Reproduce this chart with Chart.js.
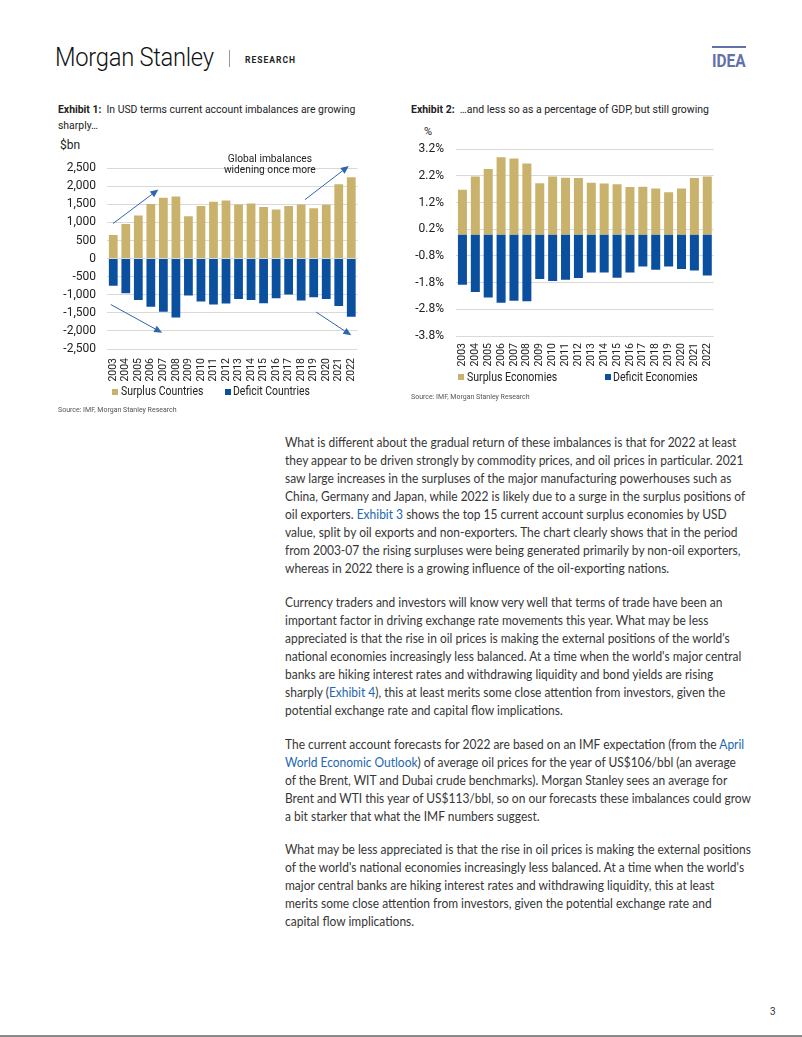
<!DOCTYPE html>
<html lang="en">
<head>
  <meta charset="UTF-8">
  <title>Morgan Stanley Research - Current account imbalances</title>
  <script src="https://cdn.jsdelivr.net/npm/chart.js"></script>
  <style>
    * { box-sizing: border-box; }
    body {
      margin: 0;
      width: 802px;
      height: 1037px;
      position: relative;
      background: #fff;
      font-family: Roboto, sans-serif;
      color: #222;
      overflow: hidden;
    }
    .abs { position: absolute; white-space: nowrap; }
    .cond { transform-origin: 0 50%; }

    .brand { left: 55px; top: 43px; font-size: 25px; font-weight: 300; color: #111; transform: scaleX(0.95); transform-origin: 0 0; letter-spacing: -0.3px; }
    .divider { left: 229px; top: 50px; width: 1px; height: 17px; background: #999; }
    .research { left: 245px; top: 55px; font-size: 8.5px; font-weight: 700; letter-spacing: 1px; color: #222; }
    .idea-line { left: 712px; top: 46px; width: 34px; height: 2px; background: #6371a9; }
    .idea { left: 712px; top: 50px; font-size: 18px; font-weight: 700; color: #6371a9; transform: scaleX(0.86); transform-origin: 0 0; }

    .title { font-size: 11.5px; line-height: 16px; color: #222; transform: scaleX(0.905); transform-origin: 0 0; }
    .title b { font-weight: 700; }
    .unit { font-size: 12px; color: #222; }
    .source { font-size: 7px; color: #555; }

    .legend { font-size: 12px; color: #222; line-height: 14px; }
    .sw { width: 6px; height: 6px; }

    .text {
      left: 285px;
      font-family: Lato, sans-serif;
      font-size: 13px;
      line-height: 18px;
      color: #363636;
      transform: scaleX(0.922);
      transform-origin: 0 0;
    }
    .text a { color: #2266b0; text-decoration: none; }
    .pageno { left: 770px; top: 1006px; font-size: 10px; color: #333; }
    .bottom-rule { left: 0; top: 1035px; width: 802px; height: 2px; background: #8a8a8a; }
  </style>
</head>
<body>
  <div class="abs brand">Morgan Stanley</div>
  <div class="abs divider"></div>
  <div class="abs research">RESEARCH</div>
  <div class="abs idea-line"></div>
  <div class="abs idea">IDEA</div>

  <!-- Exhibit 1 -->
  <div class="abs title" style="left:58px; top:101px;"><b>Exhibit 1:</b>&nbsp; In USD terms current account imbalances are growing<br>sharply…</div>
  <div class="abs unit" style="left:60px; top:138px;">$bn</div>
  <canvas id="usdChart" class="abs" width="318" height="236" style="left:55px; top:150px;"></canvas>
  <div class="abs sw" style="left:112px; top:389px; background:#c9b36c;"></div>
  <div class="abs legend cond" style="left:121px; top:384px; transform:scaleX(0.87);">Surplus Countries</div>
  <div class="abs sw" style="left:225px; top:389px; background:#0b4f9f;"></div>
  <div class="abs legend cond" style="left:233px; top:384px; transform:scaleX(0.87);">Deficit Countries</div>
  <div class="abs source" style="left:58px; top:406px;">Source: IMF, Morgan Stanley Research</div>

  <!-- Exhibit 2 -->
  <div class="abs title" style="left:411px; top:101px; transform:scaleX(0.91);"><b>Exhibit 2:</b>&nbsp; …and less so as a percentage of GDP, but still growing</div>
  <div class="abs unit" style="left:424px; top:125px; font-size:11px;">%</div>
  <canvas id="gdpChart" class="abs" width="322" height="242" style="left:405px; top:130px;"></canvas>
  <div class="abs sw" style="left:458px; top:374px; background:#c9b36c;"></div>
  <div class="abs legend cond" style="left:467px; top:370px; transform:scaleX(0.88);">Surplus Economies</div>
  <div class="abs sw" style="left:605px; top:374px; background:#0b4f9f;"></div>
  <div class="abs legend cond" style="left:613px; top:370px; transform:scaleX(0.88);">Deficit Economies</div>
  <div class="abs source" style="left:411px; top:393px;">Source: IMF, Morgan Stanley Research</div>

  <!-- Body text -->
  <div class="abs text" style="top:433px;">What is different about the gradual return of these imbalances is that for 2022 at least<br>they appear to be driven strongly by commodity prices, and oil prices in particular. 2021<br>saw large increases in the surpluses of the major manufacturing powerhouses such as<br>China, Germany and Japan, while 2022 is likely due to a surge in the surplus positions of<br>oil exporters. <a>Exhibit 3</a> shows the top 15 current account surplus economies by USD<br>value, split by oil exports and non-exporters. The chart clearly shows that in the period<br>from 2003-07 the rising surpluses were being generated primarily by non-oil exporters,<br>whereas in 2022 there is a growing influence of the oil-exporting nations.</div>

  <div class="abs text" style="top:593px;">Currency traders and investors will know very well that terms of trade have been an<br>important factor in driving exchange rate movements this year. What may be less<br>appreciated is that the rise in oil prices is making the external positions of the world's<br>national economies increasingly less balanced. At a time when the world's major central<br>banks are hiking interest rates and withdrawing liquidity and bond yields are rising<br>sharply (<a>Exhibit 4</a>), this at least merits some close attention from investors, given the<br>potential exchange rate and capital flow implications.</div>

  <div class="abs text" style="top:735px;">The current account forecasts for 2022 are based on an IMF expectation (from the <a>April</a><br><a>World Economic Outlook</a>) of average oil prices for the year of US$106/bbl (an average<br>of the Brent, WIT and Dubai crude benchmarks). Morgan Stanley sees an average for<br>Brent and WTI this year of US$113/bbl, so on our forecasts these imbalances could grow<br>a bit starker that what the IMF numbers suggest.</div>

  <div class="abs text" style="top:840px;">What may be less appreciated is that the rise in oil prices is making the external positions<br>of the world's national economies increasingly less balanced. At a time when the world's<br>major central banks are hiking interest rates and withdrawing liquidity, this at least<br>merits some close attention from investors, given the potential exchange rate and<br>capital flow implications.</div>

  <div class="abs pageno">3</div>
  <div class="abs bottom-rule"></div>

  <script>
    const years = ['2003', '2004', '2005', '2006', '2007', '2008', '2009', '2010', '2011', '2012',
                   '2013', '2014', '2015', '2016', '2017', '2018', '2019', '2020', '2021', '2022'];

    const surplusUsd = [655, 960, 1190, 1510, 1680, 1715, 1170, 1455, 1570, 1608,
                        1495, 1522, 1425, 1360, 1455, 1495, 1392, 1486, 2055, 2250];
    const deficitUsd = [-748, -956, -1143, -1335, -1472, -1632, -1019, -1183, -1268, -1241,
                        -1116, -1143, -1236, -1098, -996, -1156, -1067, -1116, -1308, -1610];

    const surplusPct = [1.68, 2.18, 2.46, 2.90, 2.85, 2.66, 1.92, 2.18, 2.13, 2.12,
                        1.94, 1.91, 1.89, 1.78, 1.79, 1.73, 1.59, 1.73, 2.12, 2.18];
    const deficitPct = [-1.88, -2.15, -2.36, -2.55, -2.48, -2.50, -1.66, -1.74, -1.69, -1.63,
                        -1.42, -1.42, -1.62, -1.42, -1.20, -1.32, -1.20, -1.29, -1.35, -1.53];

    const usdTicks = [-2500, -2000, -1500, -1000, -500, 0, 500, 1000, 1500, 2000, 2500];
    const pctTicks = [-3.8, -2.8, -1.8, -0.8, 0.2, 1.2, 2.2, 3.2];

    // arrows on exhibit 1, in (category index, $bn) units
    const usdArrows = [
      { from: [-0.02, 970], to: [3.6, 1910] },
      { from: [-0.2, -1270], to: [3.9, -2050] },
      { from: [15.3, 1630], to: [18.8, 2560] },
      { from: [16.2, -1480], to: [19.0, -2120] }
    ];
    const usdNote = ['Global imbalances', 'widening once more'];

    const GOLD = '#c9b36c';
    const BLUE = '#0b4f9f';
    const GRID = '#d9d9d9';

    Chart.defaults.font.family = 'Roboto, sans-serif';
    Chart.defaults.color = '#222';

    const annotate = {
      id: 'annotate',
      afterDatasetsDraw(chart) {
        if (chart.canvas.id !== 'usdChart') return;
        const ctx = chart.ctx;
        const x = chart.scales.x, y = chart.scales.y;
        ctx.save();
        ctx.strokeStyle = '#2c66ad';
        ctx.fillStyle = '#2c66ad';
        ctx.lineWidth = 1;
        usdArrows.forEach(a => {
          const x0 = x.getPixelForValue(a.from[0]), y0 = y.getPixelForValue(a.from[1]);
          const x1 = x.getPixelForValue(a.to[0]), y1 = y.getPixelForValue(a.to[1]);
          const ang = Math.atan2(y1 - y0, x1 - x0);
          const len = 8, half = 3.5;
          const bx = x1 - len * Math.cos(ang), by = y1 - len * Math.sin(ang);
          ctx.beginPath();
          ctx.moveTo(x0, y0);
          ctx.lineTo(bx, by);
          ctx.stroke();
          ctx.beginPath();
          ctx.moveTo(x1, y1);
          ctx.lineTo(bx + half * Math.sin(ang), by - half * Math.cos(ang));
          ctx.lineTo(bx - half * Math.sin(ang), by + half * Math.cos(ang));
          ctx.closePath();
          ctx.fill();
        });
        // the note, a little condensed like the source
        ctx.fillStyle = '#222';
        ctx.font = '11.5px Roboto, sans-serif';
        ctx.textAlign = 'center';
        ctx.textBaseline = 'middle';
        const cx = x.getPixelForValue(12.5);
        [2760, 2440].forEach((v, i) => {
          ctx.save();
          ctx.translate(cx, y.getPixelForValue(v));
          ctx.scale(0.89, 1);
          ctx.fillText(usdNote[i], 0, 0);
          ctx.restore();
        });
        ctx.restore();
      }
    };

    function makeChart(id, surplus, deficit, ticks, opts) {
      const ctx = document.getElementById(id).getContext('2d');
      return new Chart(ctx, {
        type: 'bar',
        data: {
          labels: years,
          datasets: [
            { label: opts.names[0], data: surplus, backgroundColor: GOLD },
            { label: opts.names[1], data: deficit, backgroundColor: BLUE }
          ]
        },
        options: {
          responsive: false,
          animation: false,
          categoryPercentage: 0.7,
          barPercentage: 1.0,
          layout: { padding: { top: opts.top, right: 5, bottom: 0, left: 0 } },
          plugins: { legend: { display: false }, tooltip: { enabled: false } },
          scales: {
            x: {
              stacked: true,
              grid: { display: false, drawTicks: false },
              border: { display: false },
              ticks: {
                minRotation: 90, maxRotation: 90, autoSkip: false,
                padding: opts.xPad,
                font: { size: 10.5 }, color: '#222'
              },
              afterFit: s => { s.height = opts.xHeight; }
            },
            y: {
              stacked: true,
              min: ticks[0],
              max: ticks[ticks.length - 1],
              grid: { color: GRID, lineWidth: 1, drawTicks: false },
              border: { display: false },
              ticks: {
                padding: opts.yPad,
                font: { size: 12 }, color: '#222',
                callback: opts.fmt
              },
              afterBuildTicks: s => { s.ticks = ticks.map(v => ({ value: v })); },
              afterFit: s => { s.width = opts.yWidth; }
            }
          }
        },
        plugins: [annotate]
      });
    }

    makeChart('usdChart', surplusUsd, deficitUsd, usdTicks, {
      names: ['Surplus Countries', 'Deficit Countries'],
      fmt: v => v.toLocaleString('en-US'),
      top: 12, xPad: 9, xHeight: 37, yPad: 11, yWidth: 52
    });

    makeChart('gdpChart', surplusPct, deficitPct, pctTicks, {
      names: ['Surplus Economies', 'Deficit Economies'],
      fmt: v => v.toFixed(1) + '%',
      top: 12, xPad: 7, xHeight: 36, yPad: 12, yWidth: 51
    });
  </script>
</body>
</html>
